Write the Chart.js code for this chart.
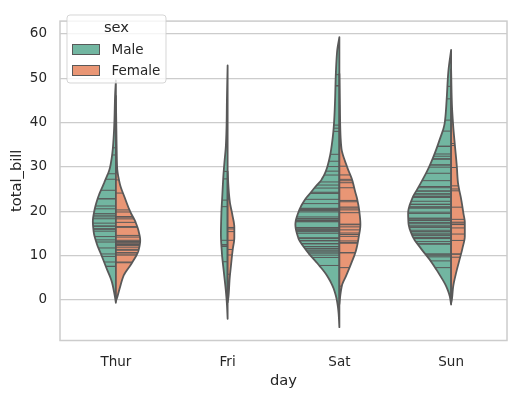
<!DOCTYPE html>
<html lang="en">
<head>
  <meta charset="UTF-8">
  <title>total_bill by day and sex</title>
  <script src="https://cdn.jsdelivr.net/npm/chart.js@4"></script>
  <style>
    html, body { margin: 0; padding: 0; background: #fff; }
  </style>
</head>
<body>
  <canvas id="chart" width="514" height="396"></canvas>
  <script>
    // categories and series
    const days = ['Thur', 'Fri', 'Sat', 'Sun'];
    const sexes = ['Male', 'Female'];
    const yTicks = [0, 10, 20, 30, 40, 50, 60];

    // density profiles: [total_bill, relative half width]
    const thurMaleKde = [[49.5, 0], [46, .018], [40, .034], [34.3, .067], [30, .128], [26.4, .262], [22.8, .409], [19.9, .485], [17.7, .515], [15.5, .499], [12.6, .425], [9.8, .313], [6.9, .201], [4, .089], [1.1, .029], [-0.7, 0]];
    const thurFemaleKde = [[46, 0], [40, .009], [34, .018], [30, .027], [26.4, .083], [22.8, .208], [19.9, .32], [17.7, .432], [15.5, .508], [13.4, .544], [11.2, .508], [8.3, .358], [5.4, .172], [2.5, .083], [0.3, .022], [-0.3, 0]];
    const friMaleKde = [[52.9, 0], [45, .016], [40.1, .022], [35, .038], [30.7, .074], [27.8, .096], [23.5, .119], [19.2, .141], [14.8, .15], [10.5, .128], [6.1, .083], [1.8, .038], [-1, .016], [-4.3, 0]];
    const friFemaleKde = [[29, 0], [25, .022], [22, .051], [19.2, .105], [16.3, .15], [14.1, .15], [11.2, .112], [7.6, .074], [4.7, .045], [1, .022], [-0.6, 0]];
    const satMaleKde = [[59.3, 0], [56, .051], [49.9, .083], [45.2, .096], [40, .119], [34.3, .179], [30, .27], [27.1, .4], [25.7, .52], [24.2, .64], [22.8, .755], [19.9, .911], [17, .984], [14.1, .924], [11.2, .745], [8.3, .499], [5.4, .275], [2.5, .128], [-0.4, .051], [-3, .018], [-6.2, 0]];
    const satFemaleKde = [[51, 0], [44, .011], [38, .022], [34.3, .045], [30, .172], [27.1, .284], [24.2, .358], [22.8, .396], [19.9, .447], [17, .47], [14.1, .432], [11.2, .374], [8.3, .268], [5.4, .15], [3.3, .06], [1.1, .022], [-1, 0]];
    const sunMaleKde = [[56.4, 0], [51.7, .06], [49.9, .074], [45.9, .096], [40.1, .141], [35.8, .268], [30, .492], [26.7, .66], [24.9, .76], [23.1, .86], [19.5, .962], [17.4, .955], [14.4, .866], [11.6, .678], [8.7, .454], [5.8, .268], [2.9, .105], [0.7, .029], [-1.1, 0]];
    const sunFemaleKde = [[52, 0], [44.5, .016], [39.4, .045], [35, .083], [30, .128], [26.7, .15], [24.9, .179], [23.1, .217], [19.5, .275], [17.4, .306], [14.4, .306], [11.6, .253], [8.7, .179], [5.8, .105], [2.9, .045], [0, .016], [-0.8, 0]];

    // individual bills (the sticks)
    const thurMaleBills = [27.20, 22.76, 17.29, 19.44, 16.66, 32.68, 15.98, 13.03, 18.28, 24.71, 21.16, 11.69, 14.26, 15.95, 8.52, 22.82, 19.08, 16.00, 34.30, 41.19, 9.78, 7.51, 28.44, 15.48, 16.58, 7.56, 10.34, 13.51, 18.71, 20.53];
    const thurFemaleBills = [10.07, 34.83, 10.65, 12.43, 24.08, 13.42, 12.48, 29.80, 14.52, 11.38, 20.27, 11.17, 12.26, 18.26, 8.51, 10.33, 14.15, 13.16, 17.47, 27.05, 16.43, 8.35, 18.64, 11.87, 19.81, 43.11, 13.00, 12.74, 13.00, 16.40, 16.47, 18.78];
    const friMaleBills = [28.97, 22.49, 40.17, 27.28, 12.03, 21.01, 12.46, 12.16, 8.58, 13.42];
    const friFemaleBills = [5.75, 16.32, 22.75, 11.35, 15.38, 13.42, 15.98, 16.27, 10.09];
    const satMaleBills = [20.65, 17.92, 39.42, 19.82, 17.81, 13.37, 12.69, 21.70, 9.55, 18.35, 17.78, 24.06, 16.31, 18.69, 31.27, 16.04, 38.01, 11.24, 48.27, 20.29, 13.81, 11.02, 18.29, 17.59, 20.08, 20.23, 15.01, 12.02, 10.51, 17.92, 15.36, 20.49, 25.21, 18.24, 14.00, 50.81, 15.81, 26.59, 38.73, 24.27, 30.06, 25.89, 48.33, 28.15, 11.59, 7.74, 20.45, 13.28, 24.01, 15.69, 11.61, 10.77, 15.53, 10.07, 12.60, 32.83, 29.03, 22.67, 17.82];
    const satFemaleBills = [20.29, 15.77, 19.65, 15.06, 20.69, 16.93, 26.41, 16.45, 3.07, 17.07, 26.86, 25.28, 14.73, 44.30, 22.42, 20.92, 14.31, 7.25, 10.59, 10.63, 12.76, 13.27, 28.17, 12.90, 30.14, 22.12, 35.83, 27.18];
    const sunMaleBills = [10.34, 21.01, 23.68, 25.29, 8.77, 26.88, 15.04, 14.78, 10.27, 15.42, 18.43, 21.58, 16.29, 17.46, 13.94, 9.68, 30.40, 18.29, 22.23, 32.40, 28.55, 18.04, 12.54, 9.94, 25.56, 19.49, 38.07, 23.95, 29.93, 14.07, 13.13, 17.26, 24.55, 19.77, 48.17, 16.49, 21.50, 12.66, 13.81, 24.52, 20.76, 31.71, 7.25, 31.85, 16.82, 32.90, 17.89, 14.48, 34.63, 34.65, 23.33, 45.35, 23.17, 40.55, 20.69, 30.46, 23.10, 15.69];
    const sunFemaleBills = [16.99, 24.59, 35.26, 14.83, 10.33, 16.97, 10.29, 34.81, 25.71, 17.31, 29.85, 25.00, 13.39, 16.21, 17.51, 9.60, 20.90, 18.15];

    const kdes = [[thurMaleKde, thurFemaleKde], [friMaleKde, friFemaleKde], [satMaleKde, satFemaleKde], [sunMaleKde, sunFemaleKde]];
    const bills = [[thurMaleBills, thurFemaleBills], [friMaleBills, friFemaleBills], [satMaleBills, satFemaleBills], [sunMaleBills, sunFemaleBills]];

    const colors = ['#72b6a1', '#e99675'];
    const gray = '#595959';
    const textColor = '#262626';
    const halfWidth = 0.4;

    Chart.defaults.font.family = "'DejaVu Sans', sans-serif";
    Chart.defaults.color = textColor;

    // monotone cubic through the read profile, so sticks end on the outline
    function densityFn(profile) {
      const pts = profile.slice().sort((a, b) => a[0] - b[0]);
      const xs = pts.map(p => p[0]), ys = pts.map(p => p[1]);
      const n = xs.length, dx = [], m = [], t = [];
      for (let i = 0; i < n - 1; i++) {
        dx[i] = xs[i + 1] - xs[i];
        m[i] = (ys[i + 1] - ys[i]) / dx[i];
      }
      t[0] = m[0];
      t[n - 1] = m[n - 2];
      for (let i = 1; i < n - 1; i++) {
        if (m[i - 1] * m[i] <= 0) t[i] = 0;
        else t[i] = 3 * (dx[i - 1] + dx[i]) / ((2 * dx[i] + dx[i - 1]) / m[i - 1] + (dx[i] + 2 * dx[i - 1]) / m[i]);
      }
      return {
        lo: xs[0],
        hi: xs[n - 1],
        at(v) {
          if (v <= xs[0] || v >= xs[n - 1]) return 0;
          let i = 0;
          while (v > xs[i + 1]) i++;
          const h = dx[i], s = (v - xs[i]) / h;
          const s2 = s * s, s3 = s2 * s;
          return Math.max(0, (2 * s3 - 3 * s2 + 1) * ys[i] + (s3 - 2 * s2 + s) * h * t[i] +
            (-2 * s3 + 3 * s2) * ys[i + 1] + (s3 - s2) * h * t[i + 1]);
        }
      };
    }

    const violinPlugin = {
      id: 'violins',
      beforeDatasetsDraw(chart) {
        const { ctx, chartArea: a } = chart;
        ctx.save();
        ctx.strokeStyle = '#cccccc';
        ctx.lineWidth = 1.5;
        ctx.strokeRect(a.left, a.top, a.right - a.left, a.bottom - a.top);
        ctx.restore();
      },
      afterDatasetsDraw(chart) {
        const { ctx } = chart;
        const xs = chart.scales.x, ys = chart.scales.y;
        ctx.save();
        ctx.lineJoin = 'round';
        days.forEach((day, i) => {
          const cx = xs.getPixelForValue(i);
          const unit = xs.getPixelForValue(i + halfWidth) - cx;
          [0, 1].forEach(k => {
            const side = k === 0 ? -1 : 1;
            const f = densityFn(kdes[i][k]);
            const top = ys.getPixelForValue(f.hi), bot = ys.getPixelForValue(f.lo);
            ctx.beginPath();
            ctx.moveTo(cx, top);
            for (let py = top; py <= bot; py += 0.5) {
              ctx.lineTo(cx + side * unit * f.at(ys.getValueForPixel(py)), py);
            }
            ctx.lineTo(cx, bot);
            ctx.closePath();
            ctx.fillStyle = colors[k];
            ctx.fill();
            ctx.strokeStyle = gray;
            ctx.lineWidth = 1.8;
            ctx.stroke();
            // sticks
            ctx.lineWidth = 1;
            ctx.beginPath();
            bills[i][k].forEach(b => {
              const py = ys.getPixelForValue(b);
              ctx.moveTo(cx, py);
              ctx.lineTo(cx + side * unit * f.at(b), py);
            });
            ctx.stroke();
          });
        });
        ctx.restore();
      },
      afterDraw(chart) {
        // legend box in upper left, over the plot
        const { ctx } = chart;
        ctx.save();
        ctx.beginPath();
        ctx.roundRect(67, 15, 99, 68, 3);
        ctx.fillStyle = 'rgba(255,255,255,0.8)';
        ctx.fill();
        ctx.strokeStyle = 'rgba(204,204,204,0.8)';
        ctx.lineWidth = 1;
        ctx.stroke();
        ctx.fillStyle = textColor;
        ctx.textBaseline = 'middle';
        ctx.textAlign = 'center';
        ctx.font = "14.7px 'DejaVu Sans'";
        ctx.fillText('sex', 116.5, 28.5);
        ctx.textAlign = 'left';
        ctx.font = "13.5px 'DejaVu Sans'";
        sexes.forEach((s, k) => {
          const y = 44.5 + k * 21;
          ctx.fillStyle = colors[k];
          ctx.fillRect(72.5, y, 27, 10);
          ctx.strokeStyle = gray;
          ctx.lineWidth = 1;
          ctx.strokeRect(72.5, y, 27, 10);
          ctx.fillStyle = textColor;
          ctx.fillText(s, 111.5, y + 5.5);
        });
        ctx.restore();
      }
    };

    new Chart(document.getElementById('chart'), {
      type: 'bar',
      data: { labels: days, datasets: [] },
      options: {
        responsive: false,
        animation: false,
        devicePixelRatio: 1,
        layout: { padding: { top: 7.5, right: 7, left: 0, bottom: 0 } },
        plugins: { legend: { display: false }, tooltip: { enabled: false } },
        scales: {
          x: {
            type: 'category',
            offset: true,
            grid: { display: false, drawTicks: false },
            border: { display: false },
            ticks: { padding: 14, color: textColor, font: { size: 13.5 } },
            title: { display: true, text: 'day', color: textColor, font: { size: 14.7 }, padding: { top: 0, bottom: 6 } },
            afterFit: s => { s.height = 55.5; }
          },
          y: {
            type: 'linear',
            min: -9.2,
            max: 62.9,
            grid: { color: '#cccccc', lineWidth: 1.2, drawTicks: false },
            border: { display: false },
            afterBuildTicks: s => { s.ticks = yTicks.map(v => ({ value: v })); },
            ticks: { padding: 13, color: textColor, font: { size: 13.5 } },
            title: { display: true, text: 'total_bill', color: textColor, font: { size: 14.7 }, padding: { top: 8, bottom: 0 } },
            afterFit: s => { s.width = 60; }
          }
        }
      },
      plugins: [violinPlugin]
    });
  </script>
</body>
</html>
